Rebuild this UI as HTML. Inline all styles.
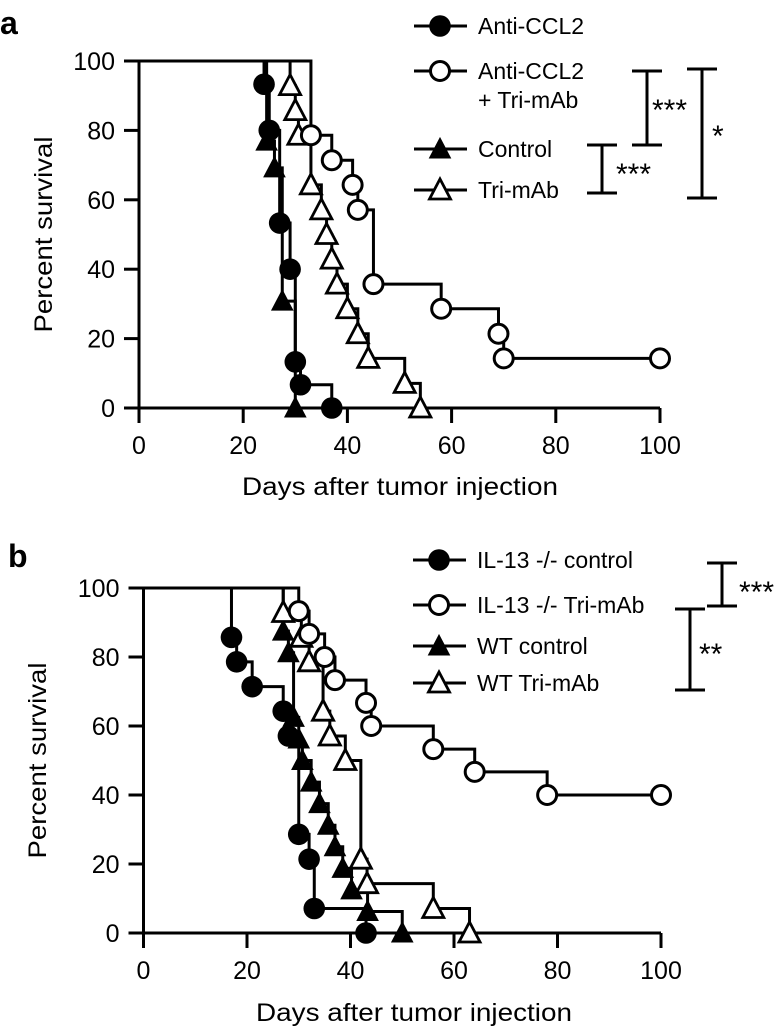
<!DOCTYPE html>
<html><head><meta charset="utf-8"><style>
body{margin:0;background:#fff;}
svg{display:block;font-family:"Liberation Sans",Arial,sans-serif;}
</style></head><body>
<svg id="fig" width="784" height="1028" viewBox="0 0 784 1028" xmlns="http://www.w3.org/2000/svg">
<text x="0" y="34" font-size="32" font-weight="bold">a</text>
<text x="8" y="567" font-size="32" font-weight="bold">b</text>
<g id="pa"></g>
<g id="pb"></g>
</svg>
<script>
// ---- Panel a data ----
const aTicks = [0,20,40,60,80,100];
const aCCL2_t = [24,25,27,29,30,31,37];
const aCCL2_s = [93.3,80,53.3,40,13.3,6.7,0];
const aCombo_t = [33,37,41,42,45,58,69,70,100];
const aCombo_s = [78.6,71.4,64.3,57.1,35.7,28.6,21.4,14.3,14.3];
const aCtrl_t = [24.5,26,27.5,30];
const aCtrl_s = [76.9,69.2,30.8,0];
const aTri_t = [29,30,30.6,33,35,36,37,38,40,42,44,51,54];
const aTri_s = [92.9,85.7,78.6,64.3,57.1,50,42.9,35.7,28.6,21.4,14.3,7.1,0];
// ---- Panel b data ----
const bIlCtrl_t = [17,18,21,27,28,30,32,33,43];
const bIlCtrl_s = [85.7,78.6,71.4,64.3,57.1,28.6,21.4,7.1,0];
const bIlTri_t = [30,32,35,37,43,44,56,64,78,100];
const bIlTri_s = [93.3,86.7,80,73.3,66.7,60,53.3,46.7,40,40];
const bWtCtrl_t = [27,28,29,30,30.7,32.4,34,35.7,37,38.5,40.2,43.3,50];
const bWtCtrl_s = [87.5,81.25,62.5,56.25,50,43.75,37.5,31.25,25,18.75,12.5,6.25,0];
const bWtTri_t = [27,30.5,32,34.7,36,39,42,43.2,56,63];
const bWtTri_s = [92.9,85.7,78.6,64.3,57.1,50,21.4,14.3,7.1,0];

const NS="http://www.w3.org/2000/svg";
function mk(parent,tag,attrs){const e=document.createElementNS(NS,tag);for(const k in attrs)e.setAttribute(k,attrs[k]);parent.appendChild(e);return e;}

function marker(g,type,cx,cy){
  let e;
  if(type==='fc'||type==='oc'){
    e=mk(g,'circle',{cx:cx,cy:cy,r:type==='fc'?10.8:9.5,fill:type==='fc'?'#000':'#fff',stroke:'#000','stroke-width':type==='fc'?0:3});
  } else {
    const h=10;
    e=mk(g,'polygon',{points:`${cx},${cy-h-1} ${cx-10.5},${cy+h-1} ${cx+10.5},${cy+h-1}`,fill:type==='ft'?'#000':'#fff',stroke:'#000','stroke-width':type==='ft'?1:2.8,'stroke-linejoin':'miter'});
  }
  return e;
}

function panel(gid,ax,series,xTitleY,yTitleX,xTitleCx){
  const g=document.getElementById(gid);
  const X=v=>ax.x0+(ax.x1-ax.x0)*v/100, Y=v=>ax.y0+(ax.y1-ax.y0)*v/100;
  const yAxis=mk(g,'line',{x1:X(0),y1:Y(0),x2:X(0),y2:Y(100),stroke:'#000','stroke-width':3});
  
  
  const xAxis=mk(g,'line',{x1:X(0)-15,y1:Y(0),x2:X(100),y2:Y(0),stroke:'#000','stroke-width':3});
  
  
  aTicks.forEach(v=>{
    const ty=mk(g,'line',{x1:X(0)-15,y1:Y(v),x2:X(0),y2:Y(v),stroke:'#000','stroke-width':3});
    
    
    const ly=mk(g,'text',{x:X(0)-24,y:Y(v)+9,'font-size':25,'text-anchor':'end'});ly.textContent=v;
    
    
    const tx=mk(g,'line',{x1:X(v),y1:Y(0),x2:X(v),y2:Y(0)+15,stroke:'#000','stroke-width':3});
    
    
    const lx=mk(g,'text',{x:X(v),y:Y(0)+46,'font-size':25,'text-anchor':'middle'});lx.textContent=v;
    
    
  });
  const xt=mk(g,'text',{x:xTitleCx,y:xTitleY,'font-size':25,'text-anchor':'middle',textLength:316,lengthAdjust:'spacingAndGlyphs'});xt.textContent='Days after tumor injection';
  
  
  const cy=(Y(0)+Y(100))/2;
  const yt=mk(g,'text',{x:yTitleX,y:cy,'font-size':25,'text-anchor':'middle',textLength:196,lengthAdjust:'spacingAndGlyphs',transform:`rotate(-90 ${yTitleX} ${cy})`});yt.textContent='Percent survival';
  
  
  series.forEach(s=>{
    let d=`M${X(0)},${Y(100)}`;
    s.t.forEach((t,i)=>{d+=` H${X(t)} V${Y(s.s[i])}`;});
    const p=mk(g,'path',{d:d,fill:'none',stroke:'#000','stroke-width':3});
    
    
    s.t.forEach((t,i)=>{
      const m=marker(g,s.type,X(t),Y(s.s[i]));
      
      
    });
  });
}

function legend(g,type,label,cx,cy,extra){
  const l=mk(g,'line',{x1:cx-26,y1:cy,x2:cx+27,y2:cy,stroke:'#000','stroke-width':3});
  
  
  const m=marker(g,type,cx,cy);
  
  
  const t=mk(g,'text',{x:cx+38,y:cy+8,'font-size':23});t.textContent=label;
  
  
  if(extra){const t2=mk(g,'text',{x:cx+38,y:cy+37,'font-size':23});t2.textContent=extra;
    
    }
}
function bracket(g,x,y1,y2,w,label,lx,ly){
  const b=mk(g,'path',{d:`M${x-w},${y1} H${x+w} M${x},${y1} V${y2} M${x-w},${y2} H${x+w}`,fill:'none',stroke:'#000','stroke-width':3});
  
  
  const t=mk(g,'text',{x:lx,y:ly,'font-size':30});t.textContent=label;
  
  
}

panel('pa',{x0:139,x1:660,y0:408,y1:61},[
  {name:'anti-ccl2',type:'fc',t:aCCL2_t,s:aCCL2_s},
  {name:'control',type:'ft',t:aCtrl_t,s:aCtrl_s},
  {name:'tri-mab',type:'ot',t:aTri_t,s:aTri_s},
  {name:'anti-ccl2-tri-mab',type:'oc',t:aCombo_t,s:aCombo_s}
],495,52,400);
panel('pb',{x0:143.5,x1:661,y0:933,y1:588},[
  {name:'il13-control',type:'fc',t:bIlCtrl_t,s:bIlCtrl_s},
  {name:'wt-control',type:'ft',t:bWtCtrl_t,s:bWtCtrl_s},
  {name:'wt-tri-mab',type:'ot',t:bWtTri_t,s:bWtTri_s},
  {name:'il13-tri-mab',type:'oc',t:bIlTri_t,s:bIlTri_s}
],1021,46,414);

const ga=document.getElementById('pa');
legend(ga,'fc','Anti-CCL2',440,26);
legend(ga,'oc','Anti-CCL2',440,71,'+ Tri-mAb');
legend(ga,'ft','Control',440,149);
legend(ga,'ot','Tri-mAb',440,190);
bracket(ga,647,71,145,15,'***',652,120);
bracket(ga,702,69,198,15,'*',712,146);
bracket(ga,602,145,193,15,'***',616,184);

const gb=document.getElementById('pb');
legend(gb,'fc','IL-13 -/- control',439,560);
legend(gb,'oc','IL-13 -/- Tri-mAb',439,605);
legend(gb,'ft','WT control',439,646);
legend(gb,'ot','WT Tri-mAb',439,683);
bracket(gb,722,563,606,15,'***',739,602);
bracket(gb,690,609,690,15,'**',699,664);
</script>
</body></html>
